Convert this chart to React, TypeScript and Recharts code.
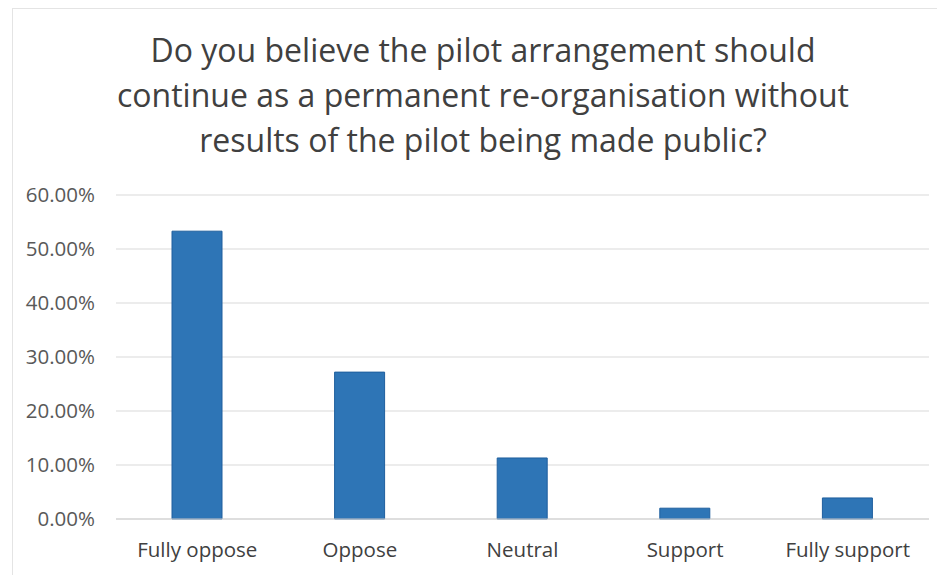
import React from 'react';
import { BarChart, Bar, XAxis, YAxis, CartesianGrid } from 'recharts';

const categories = ['Fully oppose', 'Oppose', 'Neutral', 'Support', 'Fully support'];
const shares = [0.533, 0.272, 0.113, 0.02, 0.039];
const yTicks = [0, 0.1, 0.2, 0.3, 0.4, 0.5, 0.6];
const titleLines = [
  'Do you believe the pilot arrangement should',
  'continue as a permanent re-organisation without',
  'results of the pilot being made public?',
];

const data = categories.map((name, i) => ({ name, value: shares[i] }));

const font = '"Open Sans", "Liberation Sans", sans-serif';

const App: React.FC = () => {
  return (
    <div style={{ position: 'relative', width: 945, height: 583, margin: -8, background: '#fff', fontFamily: font }}>
      <div
        style={{
          position: 'absolute',
          left: 12,
          top: 8,
          width: 928,
          height: 570,
          border: '1px solid #e4e4e4',
          boxSizing: 'border-box',
        }}
      />
      <div
        style={{
          position: 'absolute',
          left: 0,
          top: 27,
          width: 966,
          textAlign: 'center',
          fontSize: 32,
          lineHeight: '45px',
          color: '#404040',
        }}
      >
        {titleLines.map(t => (
          <div key={t}>{t}</div>
        ))}
      </div>
      <div style={{ position: 'absolute', left: 0, top: 0 }}>
        <BarChart
          width={945}
          height={583}
          data={data}
          margin={{ top: 195, right: 16, bottom: 34, left: 16 }}
        >
          <CartesianGrid vertical={false} stroke="#d9d9d9" />
          <XAxis
            dataKey="name"
            tickLine={false}
            axisLine={{ stroke: '#d0d0d0' }}
            tickMargin={17}
            tick={{ fontSize: 20.5, fill: '#404040', fontFamily: font }}
            interval={0}
          />
          <YAxis
            width={100}
            domain={[0, 0.6]}
            ticks={yTicks}
            tickFormatter={(v: number) => `${(v * 100).toFixed(2)}%`}
            tickLine={false}
            axisLine={false}
            tickMargin={15}
            tick={{ fontSize: 20.5, fill: '#595959', fontFamily: font }}
          />
          <Bar dataKey="value" fill="#2e75b6" stroke="#1f5f9e" barSize={50} isAnimationActive={false} />
        </BarChart>
      </div>
    </div>
  );
};

export default App;
